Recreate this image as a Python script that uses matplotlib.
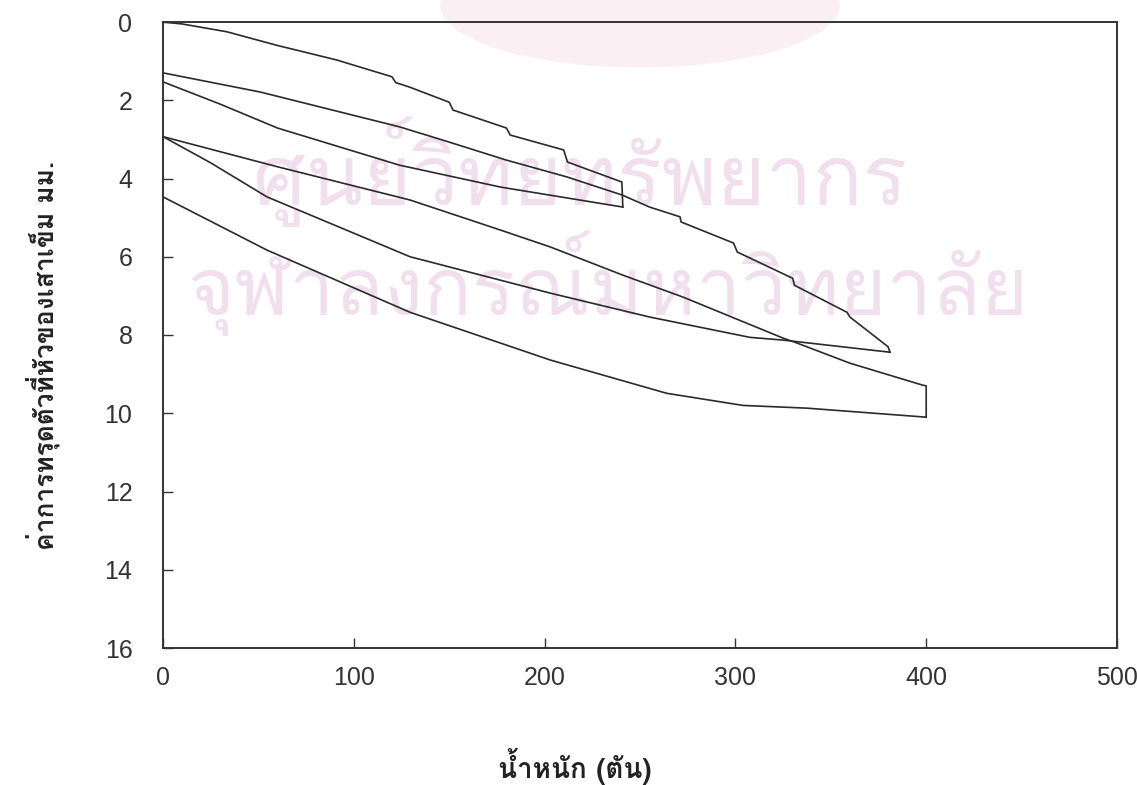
import matplotlib
matplotlib.use("Agg")
import matplotlib.pyplot as plt
from matplotlib import font_manager
from matplotlib.ft2font import FT2Font
from matplotlib.patches import Ellipse

# ---------------- data (load in tonnes, settlement in mm) ----------------
load_cycle1 = [0, 10, 33.5, 60, 91, 120, 122, 129, 150, 152, 180, 182, 210, 212, 240.5, 241]
sett_cycle1 = [0, 0.05, 0.25, 0.6, 0.97, 1.4, 1.55, 1.66, 2.05, 2.25, 2.71, 2.89, 3.27, 3.58, 4.09, 4.73]

load_unload1 = [241, 177, 124, 60, 30, 0]
sett_unload1 = [4.73, 4.22, 3.66, 2.71, 2.1, 1.53]

load_cycle2 = [0, 51, 124, 150, 180, 211.7, 240.5, 255, 271, 271.5, 299, 301, 330, 331, 358.5, 360, 380, 381]
sett_cycle2 = [1.3, 1.79, 2.68, 3.07, 3.53, 3.96, 4.42, 4.73, 4.98, 5.11, 5.65, 5.88, 6.55, 6.73, 7.42, 7.54, 8.3, 8.44]

load_unload2 = [381, 325, 307.6, 255, 203, 129.5, 54.5, 25, 0]
sett_unload2 = [8.44, 8.13, 8.06, 7.54, 6.93, 6.0, 4.47, 3.6, 2.93]

load_cycle3 = [0, 60, 129.5, 177, 203, 241, 272.5, 325, 332, 360, 398, 400, 400]
sett_cycle3 = [2.93, 3.7, 4.55, 5.32, 5.75, 6.47, 7.03, 8.08, 8.2, 8.72, 9.28, 9.3, 10.1]

load_unload3 = [400, 337.5, 304, 264, 203, 129.5, 54.5, 0]
sett_unload3 = [10.1, 9.87, 9.8, 9.49, 8.64, 7.42, 5.83, 4.47]

x_ticks = [0, 100, 200, 300, 400, 500]
y_ticks = [0, 2, 4, 6, 8, 10, 12, 14, 16]

x_label = "น้ำหนัก (ตัน)"
y_label = "ค่าการทรุดตัวที่หัวของเสาเข็ม มม."
watermark_1 = "ศูนย์วิทยทรัพยากร"
watermark_2 = "จุฬาลงกรณ์มหาวิทยาลัย"


# ---------------- find a font with Thai glyphs ----------------
def find_thai_family():
    preferred = []
    others = []
    for f in font_manager.fontManager.ttflist:
        try:
            ft = FT2Font(f.fname)
            if ft.get_char_index(ord("น")) and ft.get_char_index(ord("ก")):
                if "Thai" in f.name or "Loma" in f.name or "Garuda" in f.name:
                    preferred.append(f.name)
                else:
                    others.append(f.name)
        except Exception:
            pass
    for lst in (preferred, others):
        if lst:
            return lst[0]
    return None


thai = find_thai_family()
thai_fams = ([thai] if thai else []) + ["DejaVu Sans"]

plt.rcParams["font.family"] = ["Liberation Sans", "DejaVu Sans"]

W, H = 1137, 785
fig = plt.figure(figsize=(W / 100, H / 100), dpi=100)
ax = fig.add_axes([163 / W, 1 - 648 / H, (1117 - 163) / W, (648 - 22) / H])
ax.set_zorder(2)

# faint logo blob and watermark text behind the plot
logo = Ellipse((640 / W, 1 - 5 / H), 400 / W, 125 / H, transform=fig.transFigure,
               facecolor="#fbeff4", edgecolor="none", zorder=-1)
fig.patches.append(logo)
fig.text(0.51, 1 - 172 / H, watermark_1, family=thai_fams, fontsize=60, color="#f1dfee",
         ha="center", va="center", zorder=0)
fig.text(0.535, 1 - 283 / H, watermark_2, family=thai_fams, fontsize=58, color="#f1dfee",
         ha="center", va="center", zorder=0)

ax.set_facecolor("none")
lc = "#2a2a2a"
lw = 1.2
ax.plot(load_cycle1, sett_cycle1, color=lc, lw=lw)
ax.plot(load_unload1, sett_unload1, color=lc, lw=lw)
ax.plot(load_cycle2, sett_cycle2, color=lc, lw=lw)
ax.plot(load_unload2, sett_unload2, color=lc, lw=lw)
ax.plot(load_cycle3, sett_cycle3, color=lc, lw=lw)
ax.plot(load_unload3, sett_unload3, color=lc, lw=lw)

ax.set_xlim(0, 500)
ax.set_ylim(16, 0)
ax.set_xticks(x_ticks)
ax.set_yticks(y_ticks)
ax.tick_params(axis="both", direction="in", length=7, width=1.0, color="#333333",
               labelsize=18, labelcolor="#333333")
ax.tick_params(axis="x", pad=13)
ax.tick_params(axis="y", pad=22)
for s in ax.spines.values():
    s.set_color("#333333")
    s.set_linewidth(1.4)

ax.set_xlabel(x_label, family=thai_fams, fontsize=20, fontweight="bold", color="#222222")
ax.xaxis.set_label_coords((575 - 163) / 954, (648 - 748) / 626)
ax.set_ylabel(y_label, family=thai_fams, fontsize=19, fontweight="bold", color="#222222")
ax.yaxis.set_label_coords((60 - 163) / 954, (648 - 355) / 626)

fig.savefig("out.png", dpi=100)
